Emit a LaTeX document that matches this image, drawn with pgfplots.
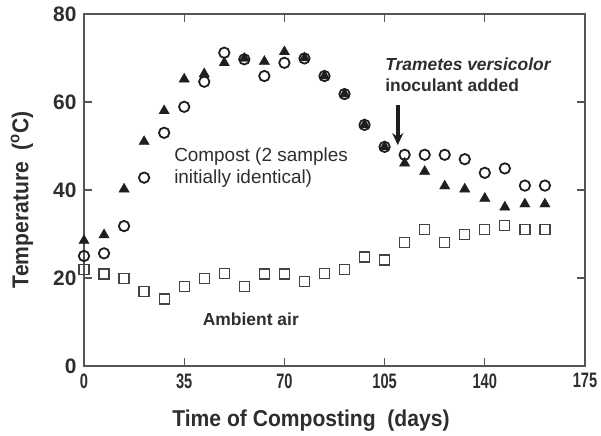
\documentclass[border=0pt]{standalone}
\usepackage{fontspec}
\setmainfont{Liberation Sans}[FakeStretch=0.92]
\newfontfamily\annfont{Liberation Sans}
\newfontfamily\xtfont{Liberation Sans}[FakeStretch=0.7]
\usepackage{pgfplots}
\usepackage{pgfplotstable}
\usetikzlibrary{arrows.meta}
\pgfplotsset{compat=1.18}
\definecolor{txt}{HTML}{2E2E2E}
\definecolor{axc}{HTML}{555555}
\definecolor{mk}{HTML}{1E1E1E}
\definecolor{sq}{HTML}{444444}
\pgfplotstableread{
day tri circ sq
0 28.5 25.0 22.0
7 29.8 25.6 20.9
14 40.2 31.8 19.9
21 51.0 42.8 17.0
28 58.0 53.0 15.2
35 65.2 58.9 18.0
42 66.4 64.6 19.9
49 68.9 71.2 21.1
56 69.9 69.7 18.0
63 69.2 65.9 20.9
70 71.4 68.9 20.9
77 70.0 69.9 19.2
84 65.9 65.9 21.1
91 61.8 61.8 22.0
98 54.8 54.8 24.8
105 49.8 49.8 24.1
112 46.1 48.0 28.0
119 44.2 48.0 31.1
126 40.9 48.0 28.0
133 40.2 47.0 29.9
140 38.1 43.9 31.1
147 36.1 44.9 32.0
154 36.8 41.0 31.1
161 36.8 41.0 31.1
}\data
\begin{document}
\begin{tikzpicture}
\begin{axis}[
  width=501bp, height=352bp, scale only axis,
  xmin=0, xmax=175, ymin=0, ymax=80,
  xtick={0,35,70,105,140,175}, ytick={0,20,40,60,80},
  tick align=inside, major tick length=8bp,
  axis line style={color=axc, line width=1.1pt},
  every tick/.style={color=axc, line width=1.1pt},
  /pgf/number format/assume math mode=true,
  xticklabel style={font=\xtfont\fontsize{21}{21}\selectfont\bfseries, text=txt, yshift=-4bp},
  yticklabel style={font=\annfont\fontsize{21}{21}\selectfont\bfseries, text=txt, xshift=-4bp},
  xlabel={Time of Composting\ \ (days)},
  ylabel={Temperature\ \ (\textsuperscript{o}C)},
  label style={font=\fontsize{23}{23}\selectfont\bfseries, text=txt},
  xlabel style={at={(axis description cs:0.453,-0.155)}, anchor=center},
  ylabel style={at={(axis description cs:-0.124,0.472)}, anchor=center},
  clip=false,
]
\addplot[only marks, mark=square, mark size=5bp, mark options={draw=sq, line width=1.3pt}] table[x=day, y=sq] {\data};
\addplot[only marks, mark=o, mark size=5.2bp, mark options={draw=mk, line width=1.8pt}] table[x=day, y=circ] {\data};
\addplot[only marks, mark=triangle*, mark size=6bp, mark options={draw=mk, fill=mk, line width=0.3pt}] table[x=day, y=tri] {\data};
\node[anchor=west, align=left, font=\annfont\fontsize{19}{22}\selectfont, text=txt] at (axis cs:30.3,45.1) {Compost (2 samples\\initially identical)};
\node[anchor=west, font=\annfont\fontsize{17.5}{17.5}\selectfont\bfseries, text=txt] at (axis cs:40.3,10.7) {Ambient air};
\node[anchor=west, align=left, font=\annfont\fontsize{17.5}{21}\selectfont\bfseries, text=txt] at (axis cs:104,66.2) {\textit{Trametes versicolor}\\inoculant added};
\draw[-{Stealth[length=12bp,width=11bp]}, line width=3.5bp, color=mk] (axis cs:109.6,59.3) -- (axis cs:109.6,50.2);
\coordinate (ll) at (rel axis cs:0,0);
\coordinate (ur) at (rel axis cs:1,1);
\end{axis}
\pgfresetboundingbox
\path ([shift={(-84bp,-70bp)}]ll) rectangle ([shift={(16bp,14bp)}]ur);
\end{tikzpicture}
\end{document}
